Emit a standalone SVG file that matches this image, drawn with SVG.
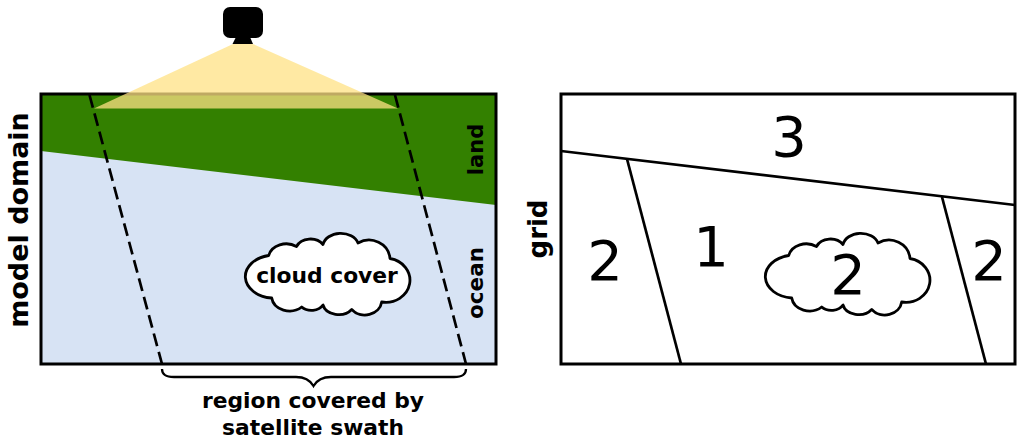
<svg xmlns="http://www.w3.org/2000/svg" width="1024" height="444" viewBox="0 0 1024 444">
<style>
text{font-family:"DejaVu Sans",sans-serif;fill:#000;text-anchor:middle}
.b{font-weight:bold;font-size:21.8px}
.n{font-size:56px}
.frame{fill:none;stroke:#000;stroke-width:3}
.line{fill:none;stroke:#000;stroke-width:2.7}
.dash{fill:none;stroke:#000;stroke-width:2.7;stroke-dasharray:13 6}
.cloud{fill:#fff;stroke:#000;stroke-width:2.8;stroke-linejoin:round}
</style>
<defs>
<path id="c" d="M268.700 255.500A18 15 0 0 1 296.500 246.500A15 12 0 0 1 323 244.500A18 13.500 0 0 1 358 243A21 20 0 0 1 390 258.500A24 22 0 0 1 381.700 302A17 15 0 0 1 351.700 309.500A16 12 0 0 1 323 305A13 10 0 0 1 301.700 307A18 15 0 0 1 271.700 298A29 21.500 0 0 1 268.700 255.500Z"/>
</defs>
<g id="model-domain">
<rect x="41" y="94" width="455" height="270" fill="#d7e3f4"/>
<path d="M41 94H496V205L41 151Z" fill="#338000"/>
<rect class="frame" x="41" y="94" width="455" height="270"/>
</g>
<g id="swath">
<path class="dash" d="M89.500 95L162 364"/>
<path class="dash" d="M395 95L466 364"/>
</g>
<g id="satellite">
<rect x="223" y="7" width="40" height="31" rx="7" fill="#000"/>
<path d="M236 37H250L253 44H232.500Z" fill="#000"/>
<path d="M233 44H253L398 108.500H94Z" fill="#ffe284" fill-opacity="0.75"/>
</g>
<g id="cloud-cover">
<use href="#c" class="cloud"/>
<text class="b" x="327" y="283">cloud cover</text>
</g>
<g id="labels">
<text class="b" style="font-size:27px" transform="translate(28 220) rotate(-90)">model domain</text>
<text class="b" style="font-size:21px" transform="translate(483 149.500) rotate(-90)">land</text>
<text class="b" style="font-size:21.500px" transform="translate(483 283) rotate(-90)">ocean</text>
</g>
<g id="brace">
<path class="line" style="stroke-width:2.3" d="M162 369C162 375 166 377 174 377H296C305 377 310 380 313.500 386C317 380 322 377 331 377H454C462 377 466 375 466 369"/>
<text class="b" x="313" y="408">region covered by</text>
<text class="b" x="313" y="434.500">satellite swath</text>
</g>
<g id="grid">
<rect class="frame" x="561" y="94" width="454" height="270"/>
<path class="line" d="M561 151L1015 205"/>
<path class="line" d="M627 159L681 364"/>
<path class="line" d="M942 197L986 364"/>
<use href="#c" class="cloud" x="520"/>
<text class="b" style="font-size:26px" transform="translate(547 229) rotate(-90)">grid</text>
<text class="n" x="789" y="156">3</text>
<text class="n" x="605" y="280">2</text>
<text class="n" x="711" y="266">1</text>
<text class="n" x="848" y="294">2</text>
<text class="n" x="989" y="280">2</text>
</g>
</svg>
